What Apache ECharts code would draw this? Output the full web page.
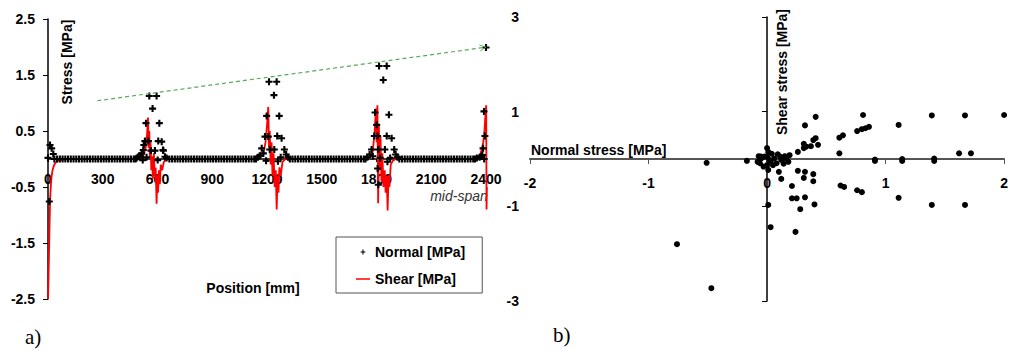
<!DOCTYPE html>
<html>
<head>
<meta charset="utf-8">
<script src="https://cdn.jsdelivr.net/npm/echarts@6/dist/echarts.min.js"></script>
<style>
html,body{margin:0;padding:0;background:#fff;}
#c{width:1011px;height:350px;}
</style>
</head>
<body>
<div id="c"></div>
<script>
// ---------- Panel a) : stress along the position ----------
// Normal stress crosses on the zero baseline (positions in mm)
const normalBasePos = [35,50,65,80,95,110,125,140,155,170,185,200,215,230,245,260,275,290,305,320,335,350,365,380,395,410,425,440,455,470,480,
  665,680,695,710,725,740,755,770,785,800,815,830,845,860,875,890,905,920,935,950,965,980,995,1010,1025,1040,1055,1070,1085,1100,1115,1130,1140,
  1325,1340,1355,1370,1385,1400,1415,1430,1445,1460,1475,1490,1505,1520,1535,1550,1565,1580,1595,1610,1625,1640,1655,1670,1685,1700,1715,1730,1740,
  1925,1940,1955,1970,1985,2000,2015,2030,2045,2060,2075,2090,2105,2120,2135,2150,2165,2180,2195,2210,2225,2240,2255,2270,2285,2300,2315,2330,2340];
const normalBaseVal = [0,0,0,0,0,0,0,0,0,0,0,0,0,0,0,0,0,0,0,0,0,0,0,0,0,0,0,0,0,0,0,
  0,0,0,0,0,0,0,0,0,0,0,0,0,0,0,0,0,0,0,0,0,0,0,0,0,0,0,0,0,0,0,0,0,
  0,0,0,0,0,0,0,0,0,0,0,0,0,0,0,0,0,0,0,0,0,0,0,0,0,0,0,0,0,
  0,0,0,0,0,0,0,0,0,0,0,0,0,0,0,0,0,0,0,0,0,0,0,0,0,0,0,0,0];
// Normal stress crosses around the support and the joints
const normalPeakPos = [0,7,11,20,29,
  486,495,505,513,519,522,525,531,537,540,550,555,564,573,586,595,601,604,610,623,630,632,641,650,
  1150,1160,1171,1180,1189,1195,1198,1207,1211,1215,1238,1240,1253,1256,1260,1267,1275,1280,1295,1305,1315,
  1750,1762,1773,1780,1788,1792,1801,1806,1806,1810,1810,1814,1820,1837,1846,1856,1856,1860,1868,1875,1883,1897,1905,1915,
  2350,2365,2375,2380,2384,2389,2390,2394,2400,2403,2405,2405,2405,2409,2409];
const normalPeakVal = [0.02,-0.76,0.25,0.19,0.09,
  0.02,0.04,0.06,0.1,-0.02,0.16,0.25,0.32,0.64,0.03,0.32,1.125,0.15,0.9,0.15,1.125,-0.02,0.32,0.64,0.31,0.16,0.15,0.04,0.02,
  0.03,0.06,0.19,0.1,0.4,-0.03,0.77,0.4,1.38,0.17,1.14,0.17,1.38,0.41,-0.04,0.77,0.03,0.37,0.17,0.08,0.03,
  0.03,0.08,0.17,0.05,0.41,0.83,0.61,0.41,-0.17,-0.46,0.17,1.66,0.02,1.41,0.17,1.66,0.41,-0.05,0.79,0.02,0.37,0.17,0.08,0.03,
  0.02,0.03,0.05,0.07,0.19,0.85,0.0,0.41,1.99,0.37,0.17,-0.14,-0.17,1.71,1.62];
// Shear stress line
const shearPos = [0,3,6,9,12,16,20,25,32,40,55,80,120,500,515,525,535,542,548,551,555,558,562,566,570,575,580,585,590,595,599,603,608,613,618,625,635,650,
  1150,1165,1180,1192,1200,1207,1211,1215,1220,1225,1230,1236,1242,1248,1253,1258,1263,1268,1275,1285,1300,
  1750,1765,1780,1790,1797,1801,1805,1809,1813,1817,1822,1827,1832,1838,1845,1850,1856,1861,1866,1871,1878,1890,1905,
  2350,2365,2375,2385,2392,2397,2401,2403,2405];
const shearVal = [-2.5,-2.1,-1.6,-1.1,-0.7,-0.45,-0.3,-0.2,-0.12,-0.07,-0.03,-0.01,0,0,0.03,0.08,0.2,0.4,0.74,0.2,0.5,0.05,0.3,-0.2,0.05,-0.35,0.1,-0.3,-0.15,-0.8,-0.3,-0.6,-0.2,-0.45,-0.1,-0.2,-0.05,0,
  0,0.03,0.1,0.3,0.6,0.93,0.2,0.5,-0.1,0.3,-0.3,0.1,-0.5,-0.2,-0.9,-0.3,-0.6,-0.15,-0.3,-0.05,0,
  0,0.03,0.15,0.5,0.9,0.3,0.96,-0.79,0.6,-0.2,0.4,-0.4,0.1,-0.5,-0.2,-0.6,-0.3,-0.92,-0.3,-0.5,-0.1,-0.03,0,
  0,0.05,0.15,0.3,0.52,0.8,0.96,-0.9,-0.5];
// Dashed trend line of the peaks (start, end)
const trendLine = [[270,1.04],[2385,1.99]];

// ---------- Panel b) : shear vs normal stress ----------
const scatterNormal = [0.41,0.32,0.81,1.39,1.67,2.0,1.11,0.76,0.80,0.83,0.86,0.61,0.64,0.41,0.39,0.37,0.43,0.31,0.33,0.31,0.26,0.61,1.62,1.72,
  0.91,0.91,1.14,1.14,1.41,1.41,0.0,0.01,0.10,0.26,0.32,0.39,0.12,0.31,0.39,0.21,0.62,0.65,0.76,0.80,0.21,0.25,0.32,1.11,0.01,0.40,0.28,1.39,1.67,0.03,0.24,
  -0.76,-0.47,-0.51,-0.17,
  -0.07,-0.05,-0.06,0.0,0.02,0.06,0.11,0.15,0.19,0.18,0.08,0.0,-0.03,0.12,0.04,0.01,-0.02,0.16,0.05,-0.08,-0.05,0.09,0.14,0.03];
const scatterShear = [0.89,0.71,0.93,0.92,0.92,0.93,0.72,0.59,0.63,0.65,0.68,0.45,0.50,0.44,0.40,0.27,0.30,0.32,0.26,0.23,0.15,0.12,0.12,0.12,
  -0.01,-0.04,0.0,-0.04,0.01,-0.04,0.23,-0.23,-0.27,-0.25,-0.27,-0.32,-0.42,-0.40,-0.47,-0.57,-0.56,-0.59,-0.66,-0.70,-0.83,-0.83,-0.81,-0.82,-0.97,-0.96,-1.06,-0.97,-0.97,-1.44,-1.54,
  -1.80,-2.73,-0.08,-0.04,
  0.06,0.01,-0.09,0.05,-0.02,0.01,0.05,0.06,0.08,-0.06,-0.09,-0.13,-0.16,-0.02,0.11,0.15,0.05,0.01,-0.13,-0.06,0.05,0.1,-0.1,-0.05];

const FAMILY = 'Liberation Sans';
const FONT = 'Liberation Sans, Arial, sans-serif';
const plusPath = 'path://M3.5,0H6.5V3.5H10V6.5H6.5V10H3.5V6.5H0V3.5H3.5Z';
const plusIcon = 'path://M0,0H0.05V0.05H0Z M13.95,9.95H14V10H13.95Z M4.6,4.45H6.45V2.6H7.55V4.45H9.4V5.55H7.55V7.4H6.45V5.55H4.6Z';
const lineIcon = 'path://M0,0H0.05V0.05H0Z M13.95,9.95H14V10H13.95Z M0,4.3H14V5.7H0Z';
const chevron = 'path://M0,10L5,0L10,10L8.8,10L5,2.4L1.2,10Z';

const normalData = normalBasePos.map((p, i) => [p, normalBaseVal[i]])
  .concat(normalPeakPos.map((p, i) => [p, normalPeakVal[i]]));
const shearData = shearPos.map((p, i) => [p, shearVal[i]]);
const scatterData = scatterNormal.map((x, i) => [x, scatterShear[i]]);

function lbl(margin) {
  return {margin: margin, color:'#000', fontWeight:'bold', fontSize:14, fontFamily: FAMILY,
          formatter: function (v) { return String(v); }};
}

const chart = echarts.init(document.getElementById('c'), null, {renderer:'svg'});
chart.setOption({
  animation:false,
  backgroundColor:'#fff',
  textStyle:{fontFamily:FAMILY},
  grid:[
    {left:48, top:19, width:438, height:280},
    {left:530, top:17, width:481, height:284}
  ],
  xAxis:[
    {gridIndex:0, type:'value', min:0, max:2400, interval:300, position:'bottom', offset:-140,
     axisLine:{onZero:false, lineStyle:{color:'#000', width:1.5}},
     axisTick:{show:true, length:3, lineStyle:{color:'#000'}},
     axisLabel:lbl(13),
     splitLine:{show:false}},
    {gridIndex:1, type:'value', min:-2, max:2, interval:1, position:'bottom', offset:-142,
     axisLine:{onZero:false, lineStyle:{color:'#555', width:2}},
     axisTick:{show:true, length:5, lineStyle:{color:'#555'}},
     axisLabel:lbl(17),
     splitLine:{show:false}}
  ],
  yAxis:[
    {gridIndex:0, type:'value', min:-2.5, max:2.5, interval:1,
     axisLine:{show:true, onZero:true, lineStyle:{color:'#000', width:1.5}},
     axisTick:{show:true, length:5, lineStyle:{color:'#000'}},
     axisLabel:lbl(13),
     splitLine:{show:false}},
    {gridIndex:1, type:'value', min:-3, max:3, interval:2,
     axisLine:{show:true, onZero:true, lineStyle:{color:'#000', width:1.5}},
     axisTick:{show:true, length:5, lineStyle:{color:'#000'}},
     axisLabel:lbl(11),
     splitLine:{show:false}}
  ],
  legend:{
    left:336, top:237, orient:'vertical', selectedMode:false,
    padding:[8,17,7,20], itemGap:13, itemWidth:14, itemHeight:10,
    borderColor:'#555', borderWidth:1,
    textStyle:{color:'#000', fontWeight:'bold', fontSize:14, fontFamily:FAMILY},
    data:[{name:'Normal [MPa]', icon:plusIcon, itemStyle:{opacity:1}},{name:'Shear [MPa]', icon:lineIcon}]
  },
  series:[
    {name:'Shear [MPa]', type:'line', xAxisIndex:0, yAxisIndex:0, data:shearData,
     showSymbol:false, symbol:'none', color:'#ff0000',
     itemStyle:{color:'#ff0000'},
     lineStyle:{color:'#ff0000', width:1.8}, z:2,
     markLine:{silent:true, symbol:['none', chevron], symbolSize:[7,7],
       label:{show:false},
       lineStyle:{color:'#55aa55', type:[4,3], width:1.2},
       data:[[{coord:trendLine[0]},{coord:trendLine[1]}]]}},
    {name:'Normal [MPa]', type:'scatter', xAxisIndex:0, yAxisIndex:0, data:normalData,
     symbol:plusPath, symbolSize:7, itemStyle:{color:'#000', opacity:1}, z:3},
    {name:'Shear vs normal', type:'scatter', xAxisIndex:1, yAxisIndex:1, data:scatterData,
     symbol:'circle', symbolSize:6, itemStyle:{color:'#000', opacity:1}, z:3}
  ],
  graphic:[
    {type:'text', x:67, y:62, rotation:Math.PI/2,
     style:{text:'Stress [MPa]', font:'bold 14px ' + FONT, fill:'#000', align:'center', verticalAlign:'middle', textAlign:'center', textVerticalAlign:'middle'}},
    {type:'text', x:253, y:288,
     style:{text:'Position [mm]', font:'bold 14px ' + FONT, fill:'#000', align:'center', verticalAlign:'middle', textAlign:'center', textVerticalAlign:'middle'}},
    {type:'text', x:459, y:196,
     style:{text:'mid-span', font:'italic 14px ' + FONT, fill:'#333', align:'center', verticalAlign:'middle', textAlign:'center', textVerticalAlign:'middle'}},
    {type:'text', x:531, y:150,
     style:{text:'Normal stress [MPa]', font:'bold 14px ' + FONT, fill:'#000', align:'left', verticalAlign:'middle', textAlign:'left', textVerticalAlign:'middle'}},
    {type:'text', x:782, y:72, rotation:Math.PI/2,
     style:{text:'Shear stress [MPa]', font:'bold 14px ' + FONT, fill:'#000', align:'center', verticalAlign:'middle', textAlign:'center', textVerticalAlign:'middle'}},
    {type:'text', x:25, y:337,
     style:{text:'a)', font:'21px Liberation Serif, Times New Roman, serif', fill:'#000', align:'left', verticalAlign:'middle', textAlign:'left', textVerticalAlign:'middle'}},
    {type:'text', x:553, y:335,
     style:{text:'b)', font:'21px Liberation Serif, Times New Roman, serif', fill:'#000', align:'left', verticalAlign:'middle', textAlign:'left', textVerticalAlign:'middle'}}
  ]
});
</script>
</body>
</html>
